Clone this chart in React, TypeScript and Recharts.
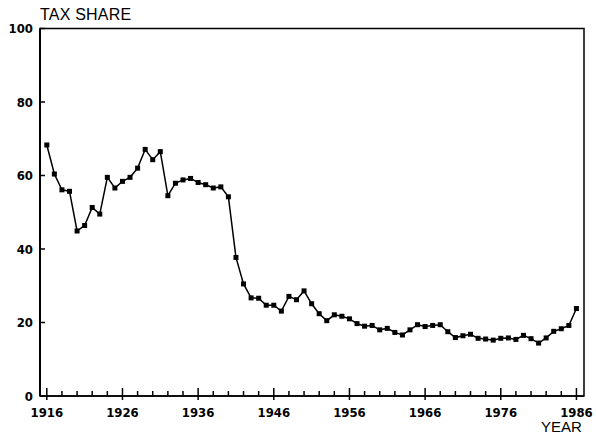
import React from "react";
import { LineChart, Line, XAxis, YAxis, ReferenceArea } from "recharts";

const years = [
  1916, 1917, 1918, 1919, 1920, 1921, 1922, 1923, 1924, 1925,
  1926, 1927, 1928, 1929, 1930, 1931, 1932, 1933, 1934, 1935,
  1936, 1937, 1938, 1939, 1940, 1941, 1942, 1943, 1944, 1945,
  1946, 1947, 1948, 1949, 1950, 1951, 1952, 1953, 1954, 1955,
  1956, 1957, 1958, 1959, 1960, 1961, 1962, 1963, 1964, 1965,
  1966, 1967, 1968, 1969, 1970, 1971, 1972, 1973, 1974, 1975,
  1976, 1977, 1978, 1979, 1980, 1981, 1982, 1983, 1984, 1985,
  1986,
];

const taxShare = [
  68.3, 60.4, 56.1, 55.7, 44.9, 46.4, 51.3, 49.5, 59.5, 56.6,
  58.4, 59.5, 62.0, 67.1, 64.3, 66.5, 54.5, 57.9, 58.8, 59.2,
  58.1, 57.5, 56.6, 56.9, 54.2, 37.7, 30.5, 26.7, 26.6, 24.7,
  24.7, 23.1, 27.1, 26.2, 28.6, 25.1, 22.4, 20.5, 22.1, 21.7,
  21.0, 19.7, 19.0, 19.2, 18.0, 18.4, 17.3, 16.6, 18.0, 19.4,
  18.9, 19.2, 19.4, 17.5, 15.9, 16.4, 16.8, 15.7, 15.5, 15.2,
  15.7, 15.8, 15.4, 16.5, 15.6, 14.4, 15.8, 17.6, 18.3, 19.2,
  23.8,
];

const xTicks = [
  1916, 1918, 1920, 1922, 1924, 1926, 1928, 1930, 1932, 1934,
  1936, 1938, 1940, 1942, 1944, 1946, 1948, 1950, 1952, 1954,
  1956, 1958, 1960, 1962, 1964, 1966, 1968, 1970, 1972, 1974,
  1976, 1978, 1980, 1982, 1984, 1986,
];
const xLabels = [1916, 1926, 1936, 1946, 1956, 1966, 1976, 1986];
const yTicks = [0, 20, 40, 60, 80, 100];

const data = years.map((y, i) => ({ year: y, share: taxShare[i] }));

const FONT = "'Liberation Sans Narrow', 'DejaVu Sans Condensed', 'Liberation Sans', sans-serif";
const TITLE_FONT = "'Liberation Sans', 'DejaVu Sans', sans-serif";

const XTick = (props: any) => {
  const { x, y, payload } = props;
  const major = xLabels.includes(payload.value);
  return (
    <g>
      <line x1={x} x2={x} y1={y - (major ? 8 : 5)} y2={y + (major ? 4 : 0)} stroke="#000" strokeWidth={1.5} />
      {major && (
        <text x={x} y={y + 21} textAnchor="middle" fontFamily={FONT} fontWeight="bold" fontSize={13} fill="#000">
          {payload.value}
        </text>
      )}
    </g>
  );
};

const YTick = (props: any) => {
  const { x, y, payload } = props;
  return (
    <g>
      <line x1={x} x2={x + 5} y1={y} y2={y} stroke="#000" strokeWidth={1.5} />
      <text x={x - 7} y={y + 4.5} textAnchor="end" fontFamily={FONT} fontWeight="bold" fontSize={13} fill="#000">
        {payload.value}
      </text>
    </g>
  );
};

const SquareDot = (props: any) => {
  const { cx, cy, index } = props;
  if (cx == null || cy == null) return null;
  return <rect key={`d${index}`} x={cx - 2.5} y={cy - 2.5} width={5} height={5} fill="#000" />;
};

export default function App() {
  return (
    <div style={{ position: "absolute", left: 0, top: 0, width: 596, height: 436, background: "#fff" }}>
      <LineChart width={596} height={436} data={data} margin={{ top: 28.5, right: 12, bottom: 0, left: 0 }}>
        <ReferenceArea x1={1915.1} x2={1987} y1={0} y2={100} fill="none" stroke="#000" strokeWidth={1.5} ifOverflow="visible" />
        <XAxis
          dataKey="year"
          type="number"
          domain={[1915.1, 1987]}
          ticks={xTicks}
          interval={0}
          tickSize={0}
          tickMargin={0}
          tickLine={false}
          axisLine={{ stroke: "#000", strokeWidth: 1.5 }}
          tick={<XTick />}
          height={40}
          allowDataOverflow
        />
        <YAxis
          type="number"
          domain={[0, 100]}
          ticks={yTicks}
          interval={0}
          tickSize={0}
          tickMargin={0}
          tickLine={false}
          axisLine={{ stroke: "#000", strokeWidth: 2 }}
          tick={<YTick />}
          width={40}
        />
        <Line
          dataKey="share"
          stroke="#000"
          strokeWidth={1.5}
          dot={<SquareDot />}
          isAnimationActive={false}
        />
      </LineChart>
      <div style={{ position: "absolute", left: 40, top: 6, fontFamily: TITLE_FONT, fontSize: 16, color: "#000", lineHeight: "18px", letterSpacing: "0.2px" }}>
        TAX SHARE
      </div>
      <div style={{ position: "absolute", left: 541, top: 418, fontFamily: TITLE_FONT, fontSize: 15, color: "#000", lineHeight: "17px" }}>
        YEAR
      </div>
    </div>
  );
}
